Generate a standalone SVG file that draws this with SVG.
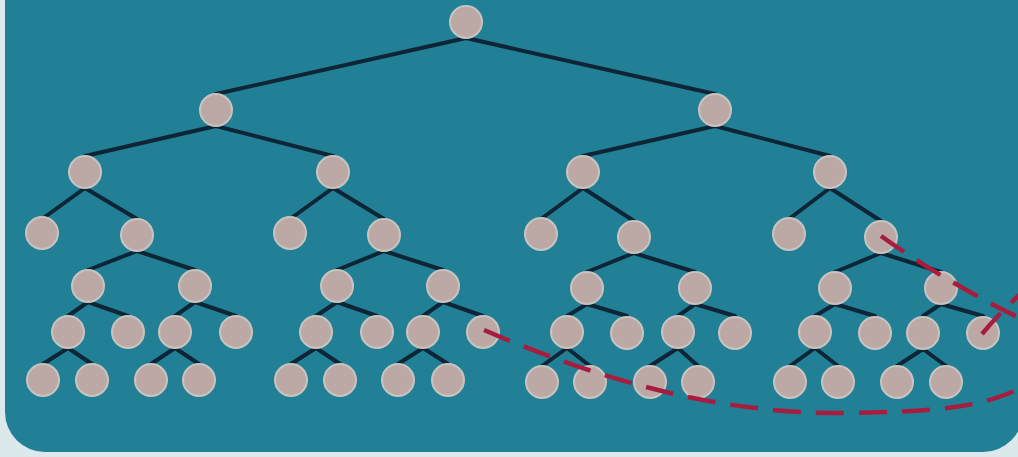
<svg xmlns="http://www.w3.org/2000/svg" width="1018" height="457" viewBox="0 0 1018 457">
<defs>
<style>
.bg{fill:#217f96}
.e{stroke:#0e2535;stroke-width:4;stroke-linecap:round;fill:none}
.n{fill:#bca9a5;stroke:#c8c4c0;stroke-width:2}
.d{stroke:#a81d3e;stroke-width:4.5;fill:none;stroke-dasharray:28 15}
</style>
</defs>
<rect x="0" y="0" width="1018" height="457" fill="#dbe9ed"/>
<rect class="bg" x="5" y="-40" width="1018" height="492" rx="40" ry="40"/>
<g id="connectors">
<line class="e" x1="466" y1="38" x2="216" y2="94"/>
<line class="e" x1="466" y1="38" x2="715" y2="94"/>
<line class="e" x1="216" y1="126" x2="85" y2="156"/>
<line class="e" x1="216" y1="126" x2="333" y2="156"/>
<line class="e" x1="715" y1="126" x2="583" y2="156"/>
<line class="e" x1="715" y1="126" x2="830" y2="156"/>
<line class="e" x1="85" y1="188" x2="42" y2="219"/>
<line class="e" x1="85" y1="188" x2="137" y2="219"/>
<line class="e" x1="333" y1="188" x2="290" y2="219"/>
<line class="e" x1="333" y1="188" x2="384" y2="219"/>
<line class="e" x1="583" y1="188" x2="541" y2="219"/>
<line class="e" x1="583" y1="188" x2="634" y2="221"/>
<line class="e" x1="830" y1="188" x2="789" y2="219"/>
<line class="e" x1="830" y1="188" x2="881" y2="221"/>
<line class="e" x1="137" y1="251" x2="88" y2="270"/>
<line class="e" x1="137" y1="251" x2="195" y2="270"/>
<line class="e" x1="384" y1="251" x2="337" y2="270"/>
<line class="e" x1="384" y1="251" x2="443" y2="270"/>
<line class="e" x1="634" y1="253" x2="587" y2="272"/>
<line class="e" x1="634" y1="253" x2="695" y2="272"/>
<line class="e" x1="881" y1="253" x2="835" y2="272"/>
<line class="e" x1="881" y1="253" x2="941" y2="272"/>
<line class="e" x1="88" y1="302" x2="68" y2="316"/>
<line class="e" x1="88" y1="302" x2="128" y2="316"/>
<line class="e" x1="195" y1="302" x2="175" y2="316"/>
<line class="e" x1="195" y1="302" x2="236" y2="316"/>
<line class="e" x1="337" y1="302" x2="316" y2="316"/>
<line class="e" x1="337" y1="302" x2="377" y2="316"/>
<line class="e" x1="443" y1="302" x2="423" y2="316"/>
<line class="e" x1="443" y1="302" x2="483" y2="316"/>
<line class="e" x1="587" y1="304" x2="567" y2="316"/>
<line class="e" x1="587" y1="304" x2="627" y2="316"/>
<line class="e" x1="695" y1="304" x2="678" y2="316"/>
<line class="e" x1="695" y1="304" x2="735" y2="316"/>
<line class="e" x1="835" y1="304" x2="815" y2="316"/>
<line class="e" x1="835" y1="304" x2="875" y2="316"/>
<line class="e" x1="941" y1="304" x2="923" y2="316"/>
<line class="e" x1="941" y1="304" x2="983" y2="316"/>
<line class="e" x1="68" y1="348" x2="43" y2="364"/>
<line class="e" x1="68" y1="348" x2="92" y2="364"/>
<line class="e" x1="175" y1="348" x2="151" y2="364"/>
<line class="e" x1="175" y1="348" x2="199" y2="364"/>
<line class="e" x1="316" y1="348" x2="291" y2="364"/>
<line class="e" x1="316" y1="348" x2="340" y2="364"/>
<line class="e" x1="423" y1="348" x2="398" y2="364"/>
<line class="e" x1="423" y1="348" x2="448" y2="364"/>
<line class="e" x1="567" y1="348" x2="542" y2="366"/>
<line class="e" x1="567" y1="348" x2="590" y2="366"/>
<line class="e" x1="678" y1="348" x2="650" y2="366"/>
<line class="e" x1="678" y1="348" x2="698" y2="366"/>
<line class="e" x1="815" y1="348" x2="790" y2="366"/>
<line class="e" x1="815" y1="348" x2="838" y2="366"/>
<line class="e" x1="923" y1="349" x2="897" y2="366"/>
<line class="e" x1="923" y1="349" x2="946" y2="366"/>
</g>
<g id="n0"><circle class="n" cx="466" cy="22" r="16"/></g>
<g id="n1"><circle class="n" cx="216" cy="110" r="16"/></g>
<g id="n2"><circle class="n" cx="715" cy="110" r="16"/></g>
<g id="n3"><circle class="n" cx="85" cy="172" r="16"/></g>
<g id="n4"><circle class="n" cx="333" cy="172" r="16"/></g>
<g id="n5"><circle class="n" cx="583" cy="172" r="16"/></g>
<g id="n6"><circle class="n" cx="830" cy="172" r="16"/></g>
<g id="n7"><circle class="n" cx="42" cy="233" r="16"/></g>
<g id="n8"><circle class="n" cx="137" cy="235" r="16"/></g>
<g id="n9"><circle class="n" cx="290" cy="233" r="16"/></g>
<g id="n10"><circle class="n" cx="384" cy="235" r="16"/></g>
<g id="n11"><circle class="n" cx="541" cy="234" r="16"/></g>
<g id="n12"><circle class="n" cx="634" cy="237" r="16"/></g>
<g id="n13"><circle class="n" cx="789" cy="234" r="16"/></g>
<g id="n14"><circle class="n" cx="881" cy="237" r="16"/></g>
<g id="n15"><circle class="n" cx="88" cy="286" r="16"/></g>
<g id="n16"><circle class="n" cx="195" cy="286" r="16"/></g>
<g id="n17"><circle class="n" cx="337" cy="286" r="16"/></g>
<g id="n18"><circle class="n" cx="443" cy="286" r="16"/></g>
<g id="n19"><circle class="n" cx="587" cy="288" r="16"/></g>
<g id="n20"><circle class="n" cx="695" cy="288" r="16"/></g>
<g id="n21"><circle class="n" cx="835" cy="288" r="16"/></g>
<g id="n22"><circle class="n" cx="941" cy="288" r="16"/></g>
<g id="n23"><circle class="n" cx="68" cy="332" r="16"/></g>
<g id="n24"><circle class="n" cx="128" cy="332" r="16"/></g>
<g id="n25"><circle class="n" cx="175" cy="332" r="16"/></g>
<g id="n26"><circle class="n" cx="236" cy="332" r="16"/></g>
<g id="n27"><circle class="n" cx="316" cy="332" r="16"/></g>
<g id="n28"><circle class="n" cx="377" cy="332" r="16"/></g>
<g id="n29"><circle class="n" cx="423" cy="332" r="16"/></g>
<g id="n30"><circle class="n" cx="483" cy="332" r="16"/></g>
<g id="n31"><circle class="n" cx="567" cy="332" r="16"/></g>
<g id="n32"><circle class="n" cx="627" cy="333" r="16"/></g>
<g id="n33"><circle class="n" cx="678" cy="332" r="16"/></g>
<g id="n34"><circle class="n" cx="735" cy="333" r="16"/></g>
<g id="n35"><circle class="n" cx="815" cy="332" r="16"/></g>
<g id="n36"><circle class="n" cx="875" cy="333" r="16"/></g>
<g id="n37"><circle class="n" cx="923" cy="333" r="16"/></g>
<g id="n38"><circle class="n" cx="983" cy="333" r="16"/></g>
<g id="n39"><circle class="n" cx="43" cy="380" r="16"/></g>
<g id="n40"><circle class="n" cx="92" cy="380" r="16"/></g>
<g id="n41"><circle class="n" cx="151" cy="380" r="16"/></g>
<g id="n42"><circle class="n" cx="199" cy="380" r="16"/></g>
<g id="n43"><circle class="n" cx="291" cy="380" r="16"/></g>
<g id="n44"><circle class="n" cx="340" cy="380" r="16"/></g>
<g id="n45"><circle class="n" cx="398" cy="380" r="16"/></g>
<g id="n46"><circle class="n" cx="448" cy="380" r="16"/></g>
<g id="n47"><circle class="n" cx="542" cy="382" r="16"/></g>
<g id="n48"><circle class="n" cx="590" cy="382" r="16"/></g>
<g id="n49"><circle class="n" cx="650" cy="382" r="16"/></g>
<g id="n50"><circle class="n" cx="698" cy="382" r="16"/></g>
<g id="n51"><circle class="n" cx="790" cy="382" r="16"/></g>
<g id="n52"><circle class="n" cx="838" cy="382" r="16"/></g>
<g id="n53"><circle class="n" cx="897" cy="382" r="16"/></g>
<g id="n54"><circle class="n" cx="946" cy="382" r="16"/></g>
<g id="dashed-connectors">
<path class="d" d="M484,330 C600,380 720,415 850,413 S990,400 1030,385"/>
<path class="d" d="M881,236 Q950,285 1030,323"/>
<path class="d" d="M982,334 Q1000,312 1030,285"/>
</g>
</svg>
